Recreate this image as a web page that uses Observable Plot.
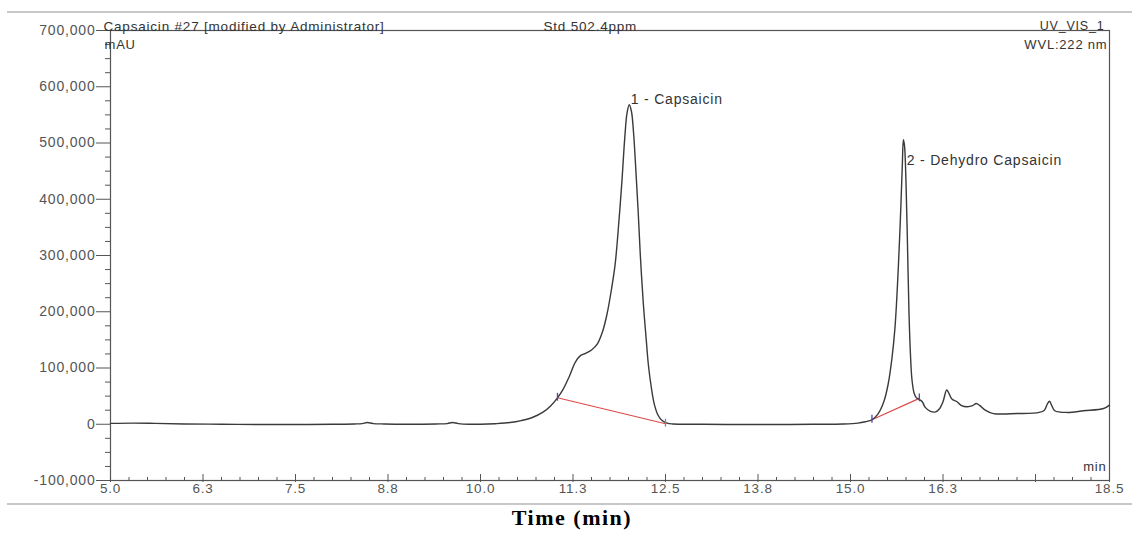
<!DOCTYPE html>
<html>
<head>
<meta charset="utf-8">
<script src="https://cdn.jsdelivr.net/npm/d3@7"></script>
<script src="https://cdn.jsdelivr.net/npm/@observablehq/plot@0.6"></script>
<style>
  html, body { margin: 0; padding: 0; background: #fff; }
  #wrap { position: relative; width: 1132px; height: 533px; overflow: hidden; }
  #chart { position: absolute; left: 0; top: 0; }
  .hline { position: absolute; left: 7px; right: 0; height: 0; border-top: 2px solid #c8c8c8; }
  #xtitle { position: absolute; left: 0; width: 1132px; top: 505px; text-align: center;
            font: bold 22px "Liberation Serif", "Times New Roman", serif; letter-spacing: 1.5px; color: #000; padding-left: 6px; }
</style>
</head>
<body>
<div id="wrap">
  <div id="chart"></div>
  <div class="hline" style="top:11px"></div>
  <div class="hline" style="top:503px"></div>
  <div id="xtitle">Time (min)</div>
</div>
<script>
// Retention time (min)
const time = [
  5.0, 5.3, 5.6, 6.0, 6.5, 7.0, 7.5, 8.0, 8.3, 8.4, 8.47, 8.55, 8.7, 9.0, 9.4, 9.55, 9.62, 9.7, 9.85, 10.0,
  10.2, 10.4, 10.55, 10.7, 10.85, 10.95, 11.04, 11.12, 11.2, 11.28, 11.35, 11.42, 11.5, 11.58, 11.65, 11.71,
  11.77, 11.82, 11.87, 11.91, 11.95, 11.98, 12.01, 12.04, 12.07, 12.1, 12.13, 12.16, 12.2, 12.24, 12.27,
  12.31, 12.35, 12.4, 12.45, 12.52, 12.6, 13.0, 13.5, 14.0, 14.5, 14.9, 15.1, 15.2, 15.29, 15.37, 15.45,
  15.51, 15.56, 15.6, 15.63, 15.66, 15.68, 15.7, 15.715, 15.73, 15.75, 15.77, 15.79, 15.81, 15.83, 15.86,
  15.89, 15.93, 15.97, 16.01, 16.08, 16.15, 16.2, 16.25, 16.3, 16.33, 16.37, 16.44, 16.5, 16.58, 16.65,
  16.7, 16.75, 16.82, 16.93, 17.25, 17.55, 17.62, 17.66, 17.69, 17.72, 17.76, 17.93, 18.15, 18.42, 18.5
];
// Detector signal (mAU)
const signal = [
  1500, 2000, 1500, 500, 0, -500, -500, 0, 500, 1200, 3000, 1200, 500, 0, 500, 1200, 3000, 1200, 0, 0,
  1000, 3000, 6500, 12000, 22000, 33000, 47000, 63000, 85000, 110000, 122000, 126000, 132000, 143000, 165000, 196000,
  240000, 285000, 360000, 430000, 510000, 553000, 568000, 556000, 515000, 450000, 380000, 300000, 215000, 150000, 104000,
  64000, 35000, 16000, 7000, 2000, 500, 0, -500, -500, 0, 500, 2000, 4500, 8000, 18000, 40000,
  72000, 117000, 170000, 235000, 320000, 385000, 460000, 506000, 495000, 430000, 320000, 200000, 125000, 80000, 55000,
  47000, 44000, 40000, 30000, 23000, 22000, 27000, 40000, 61000, 55000, 45000, 40000, 33000, 31000, 33000,
  37000, 33000, 25000, 19000, 19000, 21000, 25000, 36000, 41000, 33000, 24000, 21000, 24000, 28000, 34000
];
// Integration baselines (start/end points)
const base1Time = [11.04, 12.5];
const base1Signal = [47000, 1000];
const base2Time = [15.29, 15.93];
const base2Signal = [8000, 46000];
// Peak labels
const peakNames = ["1 - Capsaicin", "2 - Dehydro Capsaicin"];
const peakTime = [12.03, 15.76];
const peakSignal = [578000, 468000];
// Delimiter markers
const markTime = [11.04, 12.5, 15.29, 15.93];
const markSignal = [47000, 1000, 8000, 46000];
const markColor = ["#4a4aa8", "#888", "#4a4aa8", "#4a4aa8"];
// Axis ticks
const yTicks = [-100000, 0, 100000, 200000, 300000, 400000, 500000, 600000, 700000];
const xLabelTicks = [5, 6.25, 7.5, 8.75, 10, 11.25, 12.5, 13.75, 15, 16.25, 18.5];
const xMajorTicks = [5, 6.25, 7.5, 8.75, 10, 11.25, 12.5, 13.75, 15, 16.25, 17.5, 18.5];

const trace = time.map((t, i) => ({t, v: signal[i]}));
const base1 = base1Time.map((t, i) => ({t, v: base1Signal[i]}));
const base2 = base2Time.map((t, i) => ({t, v: base2Signal[i]}));
const peaks = peakNames.map((n, i) => ({n, t: peakTime[i], v: peakSignal[i]}));
const marks = markTime.map((t, i) => ({t, v: markSignal[i], c: markColor[i]}));
const yMinor = d3.range(-100000, 700001, 25000).filter(d => d % 100000 !== 0);
const xMinor = d3.range(5, 18.5001, 0.25).filter(d => !xMajorTicks.some(m => Math.abs(m - d) < 1e-6));

const chart = Plot.plot({
  width: 1132,
  height: 505,
  marginLeft: 110,
  marginRight: 23,
  marginTop: 30,
  marginBottom: 25,
  x: {domain: [5, 18.5], label: null},
  y: {domain: [-100000, 700000], label: null},
  style: {fontFamily: "'Liberation Sans', Arial, sans-serif", fontSize: "13px", color: "#444", background: "transparent", overflow: "visible", letterSpacing: "0.8px"},
  marks: [
    Plot.frame({stroke: "#555", strokeWidth: 1.2}),
    Plot.axisY(yTicks, {tickSize: 14, tickPadding: 1, tickFormat: d => d.toLocaleString("en-US"), stroke: "#555", fill: "#555", fontSize: 14}),
    Plot.axisY(yMinor, {tickSize: 5, text: null, stroke: "#555"}),
    Plot.axisX(xLabelTicks, {tickSize: 0, tickPadding: 3, tickFormat: d => d.toFixed(1), fill: "#555", fontSize: 13.5}),
    Plot.axisX(xMajorTicks, {tickSize: -6, text: null, stroke: "#555"}),
    Plot.axisX(xMajorTicks, {tickSize: 2, text: null, stroke: "#555"}),
    Plot.axisX(xMinor, {tickSize: -3, text: null, stroke: "#555"}),
    Plot.line(base1, {x: "t", y: "v", stroke: "#e04848", strokeWidth: 1.1}),
    Plot.line(base2, {x: "t", y: "v", stroke: "#e04848", strokeWidth: 1.1}),
    Plot.line(trace, {x: "t", y: "v", curve: "catmull-rom", stroke: "#3a3a3a", strokeWidth: 1.4}),
    Plot.ruleX(marks, {x: "t", y1: d => d.v - 6000, y2: d => d.v + 8000, stroke: "c", strokeWidth: 1.3}),
    Plot.text(peaks, {x: "t", y: "v", text: "n", textAnchor: "start", fill: "#333", fontSize: 14}),
    Plot.text(["Capsaicin #27 [modified by Administrator]"], {frameAnchor: "top-left", dx: -7, dy: -9, fill: "#333", fontSize: 13.5, textAnchor: "start"}),
    Plot.text(["Std 502.4ppm"], {frameAnchor: "top-left", dx: 433, dy: -9, fill: "#333", fontSize: 13.5, textAnchor: "start"}),
    Plot.text(["UV_VIS_1"], {frameAnchor: "top-right", dx: -5, dy: -9, fill: "#333", fontSize: 12.5, textAnchor: "end"}),
    Plot.text(["WVL:222 nm"], {frameAnchor: "top-right", dx: -2, dy: 9, fill: "#333", fontSize: 13, textAnchor: "end"}),
    Plot.text(["mAU"], {frameAnchor: "top-left", dx: -6, dy: 9, fill: "#333", fontSize: 13, textAnchor: "start"}),
    Plot.text(["min"], {frameAnchor: "bottom-right", dx: -3, dy: -10, fill: "#333", fontSize: 13, textAnchor: "end"})
  ]
});
document.getElementById("chart").appendChild(chart);
</script>
</body>
</html>
